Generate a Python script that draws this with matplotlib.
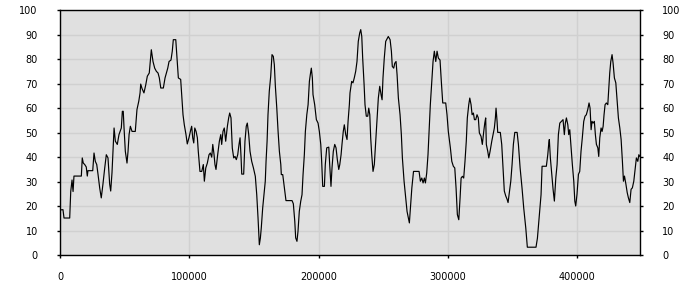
import numpy as np
import matplotlib
matplotlib.use("Agg")
import matplotlib.pyplot as plt

plt.rcParams['font.family'] = 'DejaVu Sans'

# sample positions, in thousands
pos_k = [
    0, 2.3, 3.1, 7.5, 8.3, 9.3, 10.1, 10.8, 16.5, 17.2, 18.0, 19.1, 20.3, 21.1, 21.6, 25.3,
    26.3, 27.3, 28.4, 29.4, 30.7, 31.9, 33.2, 34.6, 35.8, 37.1, 38.4, 39.2, 40.2, 41.0,
    41.8, 42.8, 44.3, 45.6, 47.4, 48.2, 48.9, 49.5, 50.5, 51.8, 52.6, 53.4, 54.4, 55.7,
    58.2, 59.5, 60.9, 61.9, 62.4, 63.4, 64.9, 66.3, 67.5, 69.0, 70.6, 71.9, 73.2, 74.5,
    75.8, 76.8, 77.9, 79.9, 81.2, 83.3, 84.3, 85.8, 86.8, 87.6, 89.5, 90.5, 91.5, 93.3,
    94.1, 95.1, 96.1, 97.4, 98.4, 99.7, 101.1, 101.8, 102.6, 103.4, 104.2, 105.2, 106.2,
    106.9, 108.2, 109.6, 110.8, 111.6, 112.7, 113.9, 115.2, 116.2, 117.3, 118.1, 119.1,
    119.8, 120.6, 121.9, 123.2, 124.3, 125.0, 126.0, 127.0, 128.1, 129.4, 130.4, 131.2,
    132.2, 133.2, 134.3, 135.3, 136.3, 137.4, 138.4, 139.2, 140.0, 140.5, 142.0, 143.0,
    144.0, 144.8, 145.9, 146.9, 148.2, 149.5, 151.0, 152.1, 153.1, 154.1, 154.9, 155.6,
    156.7, 158.0, 158.7, 159.3, 160.1, 160.8, 161.8, 162.9, 163.9, 164.9, 165.7, 166.5,
    167.6, 168.6, 169.6, 170.7, 171.1, 172.2, 172.7, 173.7, 174.7, 179.4, 180.4, 181.5,
    182.2, 183.2, 184.0, 185.0, 186.1, 187.1, 187.9, 188.9, 189.7, 190.8, 191.8, 192.8,
    193.5, 194.3, 195.1, 195.6, 196.9, 198.2, 199.5, 200.5, 201.6, 202.3, 203.1, 204.4,
    205.1, 206.2, 207.8, 208.5, 209.5, 210.3, 211.3, 212.4, 213.4, 214.4, 215.5, 216.3,
    217.3, 218.0, 219.0, 219.8, 220.9, 221.9, 222.7, 223.7, 224.2, 225.5, 226.5, 227.5,
    228.6, 229.6, 230.6, 231.7, 232.5, 233.3, 234.0, 235.1, 235.8, 236.8, 237.9, 238.7,
    239.5, 240.2, 241.0, 242.0, 243.0, 244.1, 245.1, 246.1, 247.2, 248.2, 249.0, 249.7,
    250.7, 251.8, 253.1, 253.8, 255.2, 256.2, 256.9, 258.0, 258.8, 259.8, 260.6, 261.6,
    262.9, 263.9, 264.7, 266.0, 267.3, 268.3, 269.3, 270.1, 270.9, 272.0, 273.3, 277.6,
    278.6, 279.7, 280.7, 281.7, 282.5, 283.5, 284.5, 285.3, 286.3, 287.4, 288.4, 289.4,
    290.5, 291.5, 292.5, 293.8, 294.8, 295.9, 298.2, 299.2, 300.2, 301.8, 302.9, 304.1,
    305.2, 306.2, 307.2, 308.3, 309.3, 310.1, 311.1, 312.1, 313.1, 314.1, 314.9, 316.0,
    316.8, 317.8, 318.6, 319.6, 320.4, 321.4, 322.4, 323.4, 324.2, 325.5, 326.5, 327.6,
    328.4, 329.1, 329.6, 330.7, 331.5, 332.5, 333.8, 334.8, 335.8, 336.6, 337.1, 337.9,
    338.4, 340.4, 341.5, 342.5, 343.5, 344.6, 345.6, 346.4, 347.4, 348.5, 349.5, 350.5,
    351.6, 353.4, 354.4, 355.7, 357.2, 358.5, 360.1, 361.3, 368.0, 369.1, 370.6, 371.9,
    372.7, 376.0, 377.1, 377.9, 378.3, 379.1, 380.2, 381.2, 382.2, 383.3, 384.3, 385.3,
    386.4, 387.6, 388.9, 389.9, 390.7, 391.5, 392.6, 393.3, 394.1, 395.1, 396.1, 397.2,
    398.0, 398.7, 399.7, 400.8, 401.8, 402.8, 403.8, 404.9, 405.9, 406.9, 408.0, 409.0,
    409.8, 410.6, 411.3, 412.1, 413.1, 413.9, 414.7, 415.8, 416.5, 417.3, 418.3, 419.1,
    419.9, 420.6, 421.4, 422.4, 423.5, 424.0, 425.0, 425.8, 426.8, 427.6, 428.6, 429.7,
    430.7, 431.7, 432.8, 433.8, 434.8, 435.6, 436.4, 437.5, 438.5, 439.4, 440.5, 441.5,
    442.5, 443.6, 444.6, 445.6, 446.7, 447.5, 448.3,
]

values = [
    18.5, 18.6, 15.2, 15.2, 26, 30.7, 26, 32.3, 32.3, 39.7, 37.6, 37, 36, 32.3, 34.5, 34.5,
    41.7, 38.3, 37, 33, 27.4, 23.4, 29, 35.7, 41, 39.7, 29, 26.2, 33.7, 42.4,
    51.9, 46.5, 45.2, 49.2, 51.9, 58.7, 58.7, 52, 42.4, 37.6, 42.4, 49.2, 52.6, 50.5,
    50.5, 59.4, 62.8, 66.2, 69.8, 68, 66.2, 69.5, 73, 74.3, 83.8, 79, 76.3, 75,
    74.3, 72.3, 68.2, 68.2, 72.3, 76.3, 79, 79.6, 83.2, 87.9, 87.9, 80.4, 72.3, 71.7,
    65.5, 57.3, 53.2, 49.2, 45.4, 47.9, 51.2, 52.6, 47.9, 45.8, 51.9, 50.5, 47.9,
    42.4, 34.2, 34.2, 37, 30.2, 35.6, 37.6, 41, 41.7, 40, 45.2, 41,
    37, 35, 41, 46.5, 49.2, 45.2, 50.5, 51.9, 46.5, 52.6, 56, 58,
    56, 43.7, 39.7, 40.3, 39, 41, 45.2, 47.9, 39.7, 33.1, 33.1, 46.5,
    52.6, 53.9, 49.2, 42.4, 38.3, 35.7, 32.2, 24.7, 15.2, 4.3, 7, 11.1,
    19.3, 26.2, 30.2, 38.3, 46.5, 57.3, 66.9, 73, 81.8, 81.1, 77.7, 68.9,
    60, 50.5, 42.4, 37, 32.9, 32.9, 30.8, 26.7, 22.3, 22.3, 21, 13.9,
    7.1, 5.7, 9.8, 17.9, 22, 24.7, 32.9, 41, 50.5, 57.3, 61.4, 70.9,
    73.6, 76.3, 72.3, 65.5, 61.4, 55.3, 53.9, 50.5, 45.2, 38.3, 28.1, 28.1,
    37, 43.8, 44.1, 37, 28.1, 35.7, 42.4, 45.2, 43.8, 39, 35, 37,
    41, 45.2, 50.5, 53.2, 49.2, 47.2, 54.6, 61.4, 66.2, 70.9, 70.3, 72.3,
    75, 79, 87.2, 90.6, 92, 89.2, 80.4, 69.6, 61.4, 56.7, 56.7, 60,
    57.3, 47.9, 41, 34.2, 37, 46.5, 54.6, 64.1, 68.9, 65.5, 63.4, 72.3,
    80.4, 87.2, 88.5, 89.2, 87.9, 83.2, 77, 76.3, 78.3, 79, 73.6, 64.1,
    57.3, 49.2, 39.7, 30.2, 23.4, 17.9, 15.2, 13.2, 19.3, 27.4, 34.2, 34.2,
    30.2, 31.5, 29.5, 31.5, 29.5, 33.5, 41, 50.5, 61.4, 70.9, 79, 83.2,
    79, 83.2, 80.4, 79.6, 70.9, 62.1, 62.1, 57.3, 50.5, 43.8, 38.3, 36.3,
    35.6, 27.4, 16.6, 14.5, 23.4, 31.5, 32.2, 31.5, 38.3, 46.5, 56, 61.4,
    64.1, 61.4, 57.3, 58, 55.3, 55.3, 57.3, 56, 49.9, 48.5, 45.2, 50.5,
    53.9, 56, 45.2, 42.4, 39.7, 42.4, 46.5, 49.2, 51.9, 56, 60, 54.6,
    50.1, 50.1, 45.2, 35.7, 26.2, 24.2, 22.9, 21.5, 25.6, 30.2, 37, 45.2,
    50.1, 50.1, 45.2, 35.7, 27.4, 19.3, 11.1, 3.3, 3.3, 7, 16.6, 24.7,
    36.3, 36.3, 41, 45.8, 47.2, 39.7, 33, 26.9, 22.1, 31.5, 37, 49.2,
    53.9, 54.6, 55.3, 49.2, 53.9, 56, 53.2, 49.2, 51.2, 43.8, 37, 30.2,
    22.1, 20.1, 24.9, 33, 34.2, 42.4, 47.9, 54.6, 56.7, 57.3, 59.4, 62.1,
    60, 51.2, 54.6, 53.9, 54.6, 49.2, 45.2, 43.8, 40.3, 47.9, 51.9, 50.5,
    52.6, 57.3, 61.4, 62.1, 61.4, 65.5, 74.3, 79, 81.8, 78.3, 72.3, 70.3,
    63.4, 56, 51.9, 47.2, 38.3, 30.2, 32.3, 29, 25.6, 23.5, 21.5, 26.9,
    27.5, 30.2, 35, 39.7, 38.3, 41, 40.3,
]

x_ticks = [0, 100000, 200000, 300000, 400000]
y_ticks = [0, 10, 20, 30, 40, 50, 60, 70, 80, 90, 100]

x = np.array(pos_k) * 1000
y = np.array(values)

fig = plt.figure(figsize=(7, 3), dpi=100)
ax = fig.add_axes([60 / 700, 44.7 / 300, 580 / 700, 245.3 / 300])
ax.set_facecolor('#e0e0e0')

ax.plot(x, y, color='black', lw=0.85)

ax.set_xlim(0, 448400)
ax.set_ylim(0, 100)
ax.set_xticks(x_ticks)
ax.set_xticklabels([str(v) for v in x_ticks])
ax.set_yticks(y_ticks)
ax.grid(True, color='#d0d0d0', lw=1.0)
ax.set_axisbelow(True)

for s in ax.spines.values():
    s.set_color('black')
    s.set_linewidth(1.0)

ax.tick_params(axis='y', which='both', left=True, right=True, labelleft=True,
               labelright=True, length=2, width=1, labelsize=7, pad=14)
ax.tick_params(axis='x', length=2, width=1, labelsize=7, pad=10)

fig.savefig('out.png', dpi=100)
